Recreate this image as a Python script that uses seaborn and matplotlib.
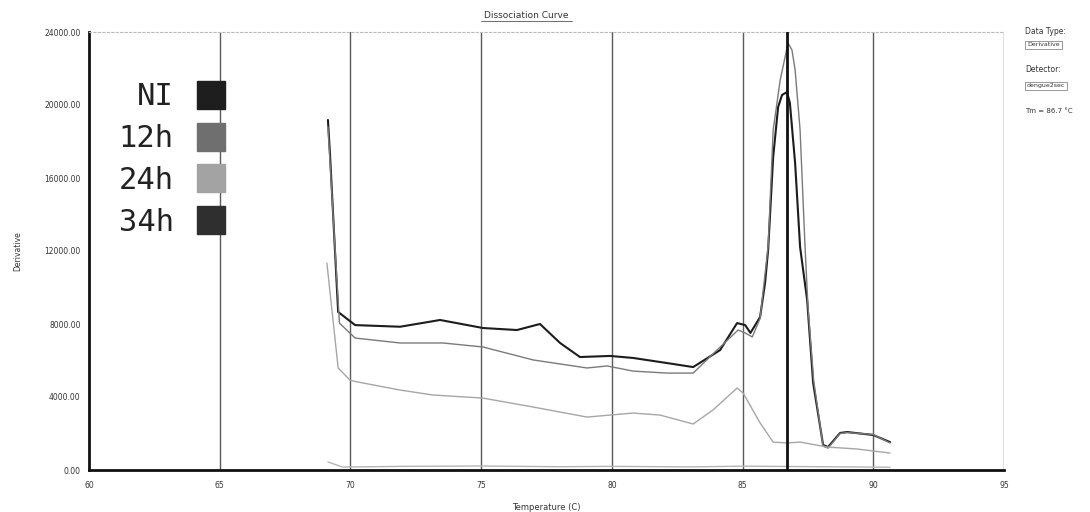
import matplotlib
matplotlib.use("Agg")
import matplotlib.pyplot as plt
from matplotlib.lines import Line2D
import seaborn as sns
import pandas as pd

# ---------------- data ----------------
samples = ["NI", "12h", "24h", "34h"]

ni_temp = [69.14, 69.22, 69.53, 70.18, 71.90, 73.43, 75.07, 76.37, 77.25, 78.02, 78.78,
           79.93, 80.81, 82.11, 83.11, 84.14, 84.79, 85.10, 85.30, 85.67, 85.86, 85.98,
           86.17, 86.36, 86.51, 86.70, 86.81, 87.01, 87.20, 87.47, 87.70, 88.08, 88.27,
           88.73, 89.00, 89.99, 90.64]
ni_deriv = [19180, 17260, 8660, 7940, 7850, 8220, 7780, 7670, 8000, 6960, 6190,
            6250, 6140, 5860, 5640, 6570, 8050, 7940, 7510, 8380, 10250, 12100,
            17150, 19890, 20550, 20710, 20110, 16820, 12220, 9310, 4770, 1370, 1260,
            2030, 2080, 1920, 1530]

h12_temp = [69.14, 69.58, 70.18, 71.90, 73.54, 75.07, 76.99, 79.05, 79.82, 80.81, 82.11,
            83.11, 84.02, 84.83, 85.10, 85.37, 85.67, 85.98, 86.17, 86.44, 86.74, 86.89,
            87.01, 87.20, 87.39, 87.50, 87.72, 88.08, 88.27, 88.73, 89.00, 89.99, 90.64]
h12_deriv = [18800, 8050, 7230, 6960, 6960, 6740, 6030, 5590, 5700, 5420, 5310,
             5310, 6570, 7670, 7510, 7290, 8300, 12300, 18630, 21370, 23400, 23010,
             21920, 18630, 12220, 9000, 4900, 1300, 1200, 2000, 2050, 1950, 1480]

h24_temp = [69.10, 69.53, 69.98, 70.18, 71.90, 73.15, 75.07, 76.99, 79.05, 80.81, 81.84,
            83.11, 83.87, 84.79, 85.02, 85.67, 86.17, 86.70, 87.20, 88.23, 89.38, 90.64]
h24_deriv = [11340, 5590, 4930, 4850, 4380, 4110, 3940, 3450, 2900, 3120, 3010,
             2520, 3290, 4490, 4220, 2580, 1530, 1480, 1530, 1260, 1150, 930]

h34_temp = [69.14, 69.70, 72.00, 75.00, 78.00, 80.00, 83.00, 85.00, 88.00, 90.64]
h34_deriv = [440, 160, 200, 220, 180, 200, 170, 210, 180, 150]

x_ticks = [60, 65, 70, 75, 80, 85, 90, 95]
y_ticks = [0, 4000, 8000, 12000, 16000, 20000, 24000]
tm_value = 86.7

line_colors = {"NI": "#1c1c1c", "12h": "#7a7a7a", "24h": "#a6a6a6", "34h": "#b5b5b5"}
swatch_colors = {"NI": "#1e1e1e", "12h": "#6f6f6f", "24h": "#a3a3a3", "34h": "#2f2f2f"}

frames = []
for name, t, d in [("NI", ni_temp, ni_deriv), ("12h", h12_temp, h12_deriv),
                   ("24h", h24_temp, h24_deriv), ("34h", h34_temp, h34_deriv)]:
    frames.append(pd.DataFrame({"Temperature": t, "Derivative": d, "Sample": name}))
df = pd.concat(frames, ignore_index=True)

# ---------------- figure ----------------
sns.set_theme(style="white")
plt.rcParams["font.family"] = ["DejaVu Sans"]

fig = plt.figure(figsize=(10.9, 5.12), dpi=100)
ax = fig.add_axes([89 / 1090, 42 / 512, 915 / 1090, 438 / 512])

sns.lineplot(data=df, x="Temperature", y="Derivative", hue="Sample",
             palette=line_colors, hue_order=samples, estimator=None, sort=False,
             linewidth=1.0, legend=False, ax=ax)
for ln in ax.get_lines()[:1]:
    ln.set_linewidth(1.5)

ax.set_xlim(60, 95)
ax.set_ylim(0, 24000)
ax.set_xticks(x_ticks)
ax.set_xticklabels([str(v) for v in x_ticks])
ax.set_yticks(y_ticks)
ax.set_yticklabels([f"{v:.2f}" for v in y_ticks])
ax.tick_params(axis="x", labelsize=5.5, colors="#333333", length=0, pad=8)
ax.tick_params(axis="y", labelsize=5.5, colors="#333333", length=0, pad=6)

for xv in x_ticks[1:]:
    ax.axvline(xv, color="#5a5a5a", linewidth=1.0, zorder=0)
ax.axvline(tm_value, color="#111111", linewidth=2.0, zorder=3)

for side in ["left", "bottom"]:
    ax.spines[side].set_color("#111111")
    ax.spines[side].set_linewidth(2.0)
ax.spines["right"].set_visible(False)
ax.spines["top"].set_color("#bbbbbb")
ax.spines["top"].set_linewidth(0.8)
ax.spines["top"].set_linestyle((0, (2, 2)))

ax.set_xlabel("Temperature (C)", fontsize=6, color="#333333", labelpad=9)
ax.set_ylabel("Derivative", fontsize=5.5, color="#333333", labelpad=16)

handles = [Line2D([0], [0], marker="s", linestyle="none", markersize=20,
                  markerfacecolor=swatch_colors[s], markeredgecolor=swatch_colors[s])
           for s in samples]
leg = ax.legend(handles, samples, loc="upper right", bbox_to_anchor=(0.153, 0.885),
                frameon=False, markerfirst=False, handlelength=1.2, handletextpad=0.6,
                labelspacing=0.42, borderpad=0, borderaxespad=0,
                prop={"family": "DejaVu Sans Mono", "size": 22})
for txt in leg.get_texts():
    txt.set_ha("right")
    txt.set_color("#222222")

# title with underline
fig.text(526 / 1090, 1 - 15 / 512, "Dissociation Curve",
         ha="center", va="center", fontsize=6.5, color="#333333")
fig.add_artist(Line2D([481 / 1090, 572 / 1090], [1 - 21 / 512, 1 - 21 / 512],
                      color="#555555", linewidth=0.6))

# right side panel texts
fig.text(1025 / 1090, 1 - 31 / 512, "Data Type:", fontsize=5.5, color="#333333",
         ha="left", va="center")
fig.text(1027 / 1090, 1 - 45 / 512, "Derivative", fontsize=4.5, color="#333333",
         ha="left", va="center",
         bbox=dict(boxstyle="square,pad=0.3", fc="white", ec="#888888", lw=0.6))
fig.text(1025 / 1090, 1 - 70 / 512, "Detector:", fontsize=5.5, color="#333333",
         ha="left", va="center")
fig.text(1027 / 1090, 1 - 86 / 512, "dengue2sec", fontsize=4.5, color="#333333",
         ha="left", va="center",
         bbox=dict(boxstyle="square,pad=0.3", fc="white", ec="#888888", lw=0.6))
fig.text(1025 / 1090, 1 - 111 / 512, f"Tm = {tm_value} °C", fontsize=5, color="#333333",
         ha="left", va="center")

fig.savefig("out.png", dpi=100, facecolor="white")
